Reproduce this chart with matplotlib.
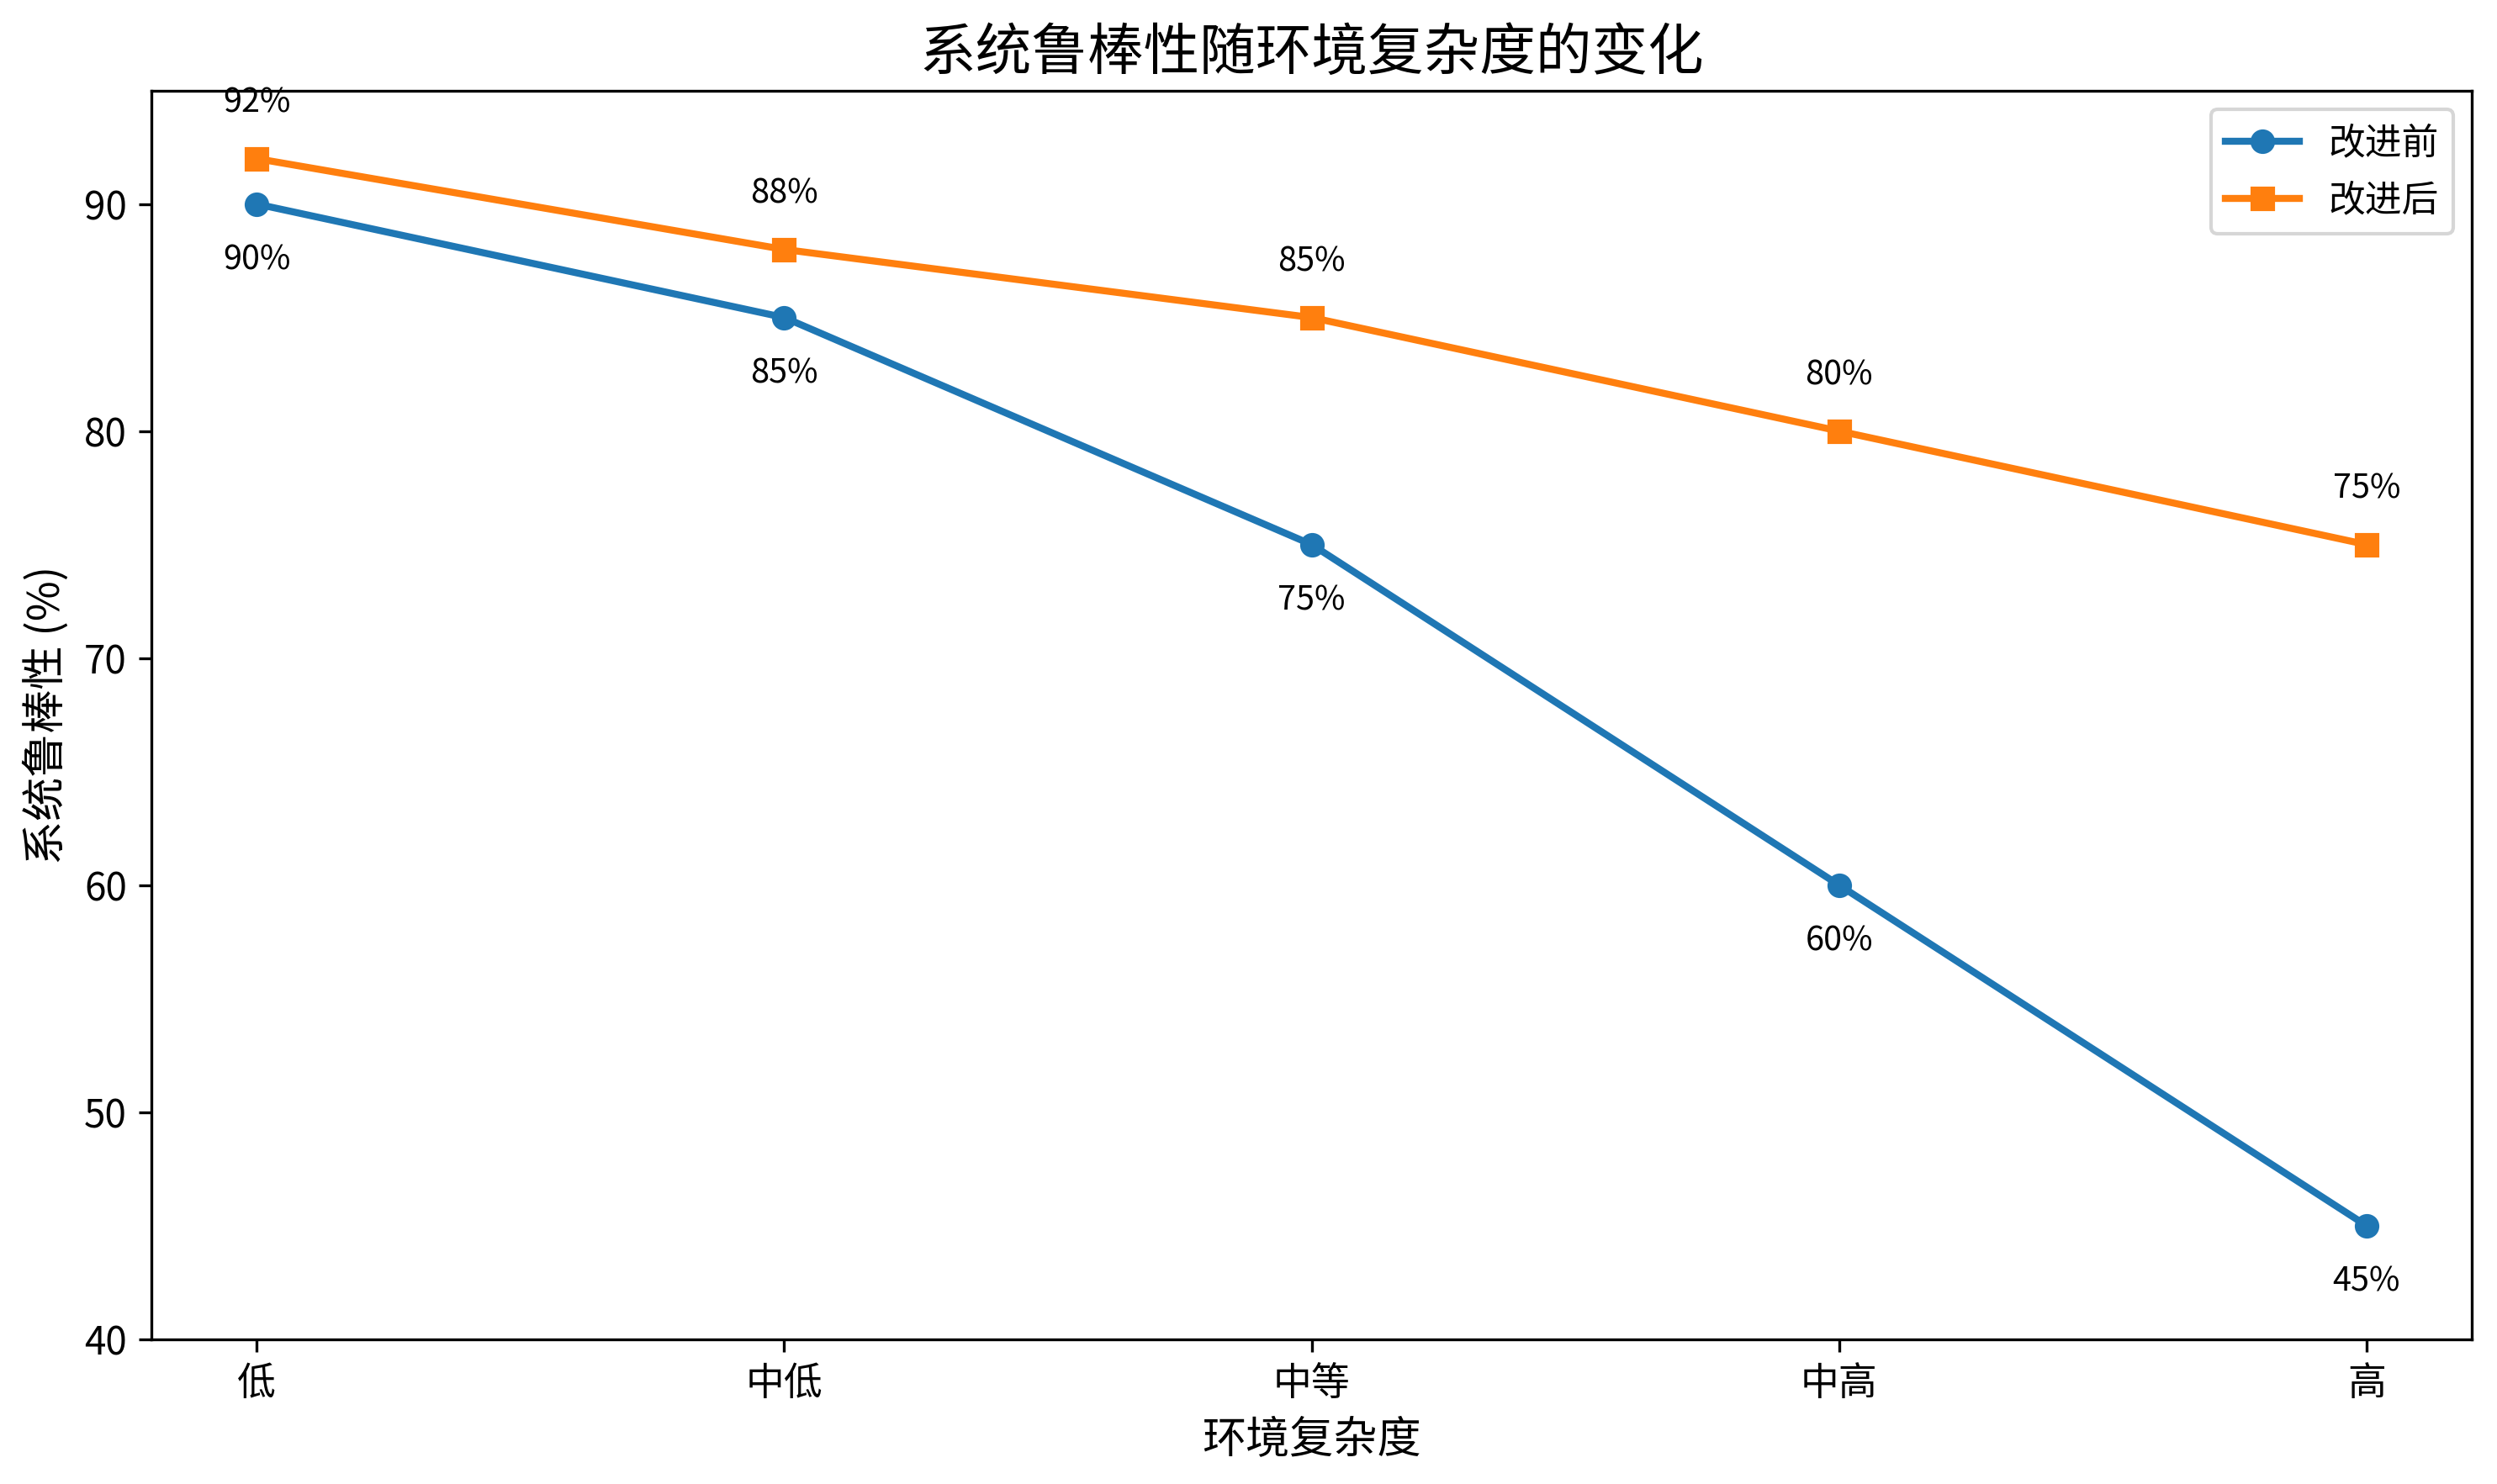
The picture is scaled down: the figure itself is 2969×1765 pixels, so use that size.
import matplotlib
matplotlib.use("Agg")
import matplotlib.pyplot as plt

plt.rcParams["font.family"] = ["Noto Sans CJK SC", "DejaVu Sans"]
plt.rcParams["axes.unicode_minus"] = False

# data
levels = ["低", "中低", "中等", "中高", "高"]
before = [90, 85, 75, 60, 45]
after = [92, 88, 85, 80, 75]

fig = plt.figure(figsize=(2969 / 300, 1765 / 300), dpi=300)
ax = fig.add_axes([0.0606, 0.0976, 0.9294, 0.8414])

x = range(len(levels))
ax.plot(x, before, marker="o", color="#1f77b4", linewidth=2, markersize=6, label="改进前")
ax.plot(x, after, marker="s", color="#ff7f0e", linewidth=2, markersize=6, label="改进后")

# value labels
for i, v in enumerate(before):
    ax.annotate(f"{v}%", (i, v), textcoords="offset points", xytext=(0, -16),
                ha="center", va="center", fontsize=9.5)
for i, v in enumerate(after):
    ax.annotate(f"{v}%", (i, v), textcoords="offset points", xytext=(0, 16),
                ha="center", va="center", fontsize=9.5)

ax.set_xticks(list(x))
ax.set_xticklabels(levels, fontsize=11)
ax.tick_params(axis="y", labelsize=11)
ax.set_ylim(40, 95)
ax.set_xlim(-0.2, 4.2)
ax.set_xlabel("环境复杂度", fontsize=12.5)
ax.set_ylabel("系统鲁棒性 (%)", fontsize=12.5)
ax.set_title("系统鲁棒性随环境复杂度的变化", fontsize=16)
ax.legend(loc="upper right", fontsize=10.5)

plt.savefig("out.png", dpi=300)
